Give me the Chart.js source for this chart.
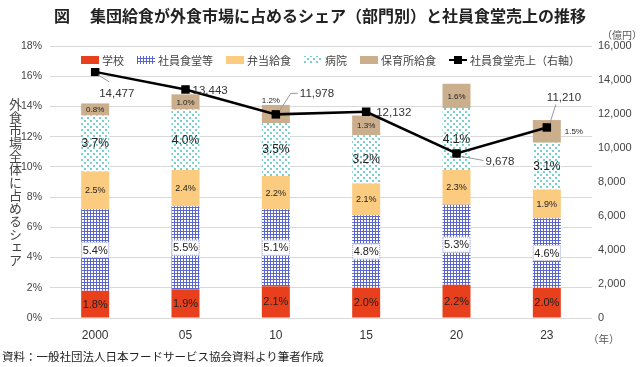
<!DOCTYPE html>
<html lang="ja">
<head>
<meta charset="utf-8">
<script src="https://cdn.jsdelivr.net/npm/chart.js@4/dist/chart.umd.min.js"></script>
<style>
body { margin: 0; background: #fff; font-family: "Noto Sans CJK JP", sans-serif; color: #333; }
#wrap { position: relative; width: 640px; height: 367px; overflow: hidden; }
#c { position: absolute; left: 0; top: 0; }
.t { position: absolute; white-space: nowrap; }
#title { left: 0; width: 640px; top: 3px; text-align: center; font-weight: bold; font-size: 16px; color: #222; }
#title span { margin-right: 20px; }
#ytitle { left: 8px; top: 98px; writing-mode: vertical-rl; font-size: 13px; color: #444; line-height: 14px; }
#unit { left: 602px; top: 27px; font-size: 10px; color: #555; }
#year { left: 588px; top: 331px; font-size: 10.5px; color: #555; }
#src { left: 2px; top: 348px; font-size: 11.5px; color: #222; }
#legend { left: 79px; top: 52px; display: flex; align-items: center; font-size: 11px; color: #444; background: #fff; padding: 0 2px; }
#legend .it { display: flex; align-items: center; margin-right: 13px; }
#legend .it:last-child { margin-right: 0; }
#legend canvas { margin-right: 3px; }
</style>
</head>
<body>
<div id="wrap">
  <canvas id="c" width="640" height="367"></canvas>
  <div class="t" id="title"><span>図</span>集団給食が外食市場に占めるシェア（部門別）と社員食堂売上の推移</div>
  <div class="t" id="ytitle">外食市場全体に占めるシェア</div>
  <div class="t" id="unit">（億円）</div>
  <div class="t" id="year">（年）</div>
  <div class="t" id="legend"></div>
  <div class="t" id="src">資料：一般社団法人日本フードサービス協会資料より筆者作成</div>
</div>
<script>
// data
var years = ['2000', '05', '10', '15', '20', '23'];
var school = [1.8, 1.9, 2.1, 2.0, 2.2, 2.0];
var office = [5.4, 5.5, 5.1, 4.8, 5.3, 4.6];
var bento = [2.5, 2.4, 2.2, 2.1, 2.3, 1.9];
var hospital = [3.7, 4.0, 3.5, 3.2, 4.1, 3.1];
var nursery = [0.8, 1.0, 1.2, 1.3, 1.6, 1.5];
var sales = [14477, 13443, 11978, 12132, 9678, 11210];

var barNames = ['学校', '社員食堂等', '弁当給食', '病院', '保育所給食'];
var lineName = '社員食堂売上（右軸）';

function makePattern(w, h, draw) {
    var c = document.createElement('canvas');
    c.width = w; c.height = h;
    var g = c.getContext('2d');
    g.fillStyle = '#fff'; g.fillRect(0, 0, w, h);
    draw(g);
    return g.createPattern(c, 'repeat');
}

var gridFill = makePattern(3, 3, function (g) {
    g.fillStyle = '#5a66cc';
    g.fillRect(0, 0, 3, 1);
    g.fillRect(0, 0, 1, 3);
});
var dotFill = makePattern(6, 6, function (g) {
    g.fillStyle = '#78cfcf';
    g.fillRect(0, 0, 2, 2);
    g.fillRect(3, 3, 2, 2);
});

var fills = ['#e8401c', gridFill, '#fbcb80', dotFill, '#cbae8c'];
var labelSizes = [11, 11, 9, 12, 8];

function barSet(name, data, i) {
    return {
        type: 'bar', label: name, data: data, yAxisID: 'y', stack: 's', order: 1,
        backgroundColor: fills[i], borderWidth: 0,
        barPercentage: 0.31, categoryPercentage: 1
    };
}

// legend as html, swatches painted on tiny canvases
function buildLegend() {
    var box = document.getElementById('legend');
    barNames.concat([lineName]).forEach(function (name, i) {
        var it = document.createElement('div');
        it.className = 'it';
        var sw = document.createElement('canvas');
        sw.width = 18; sw.height = 10;
        var g = sw.getContext('2d');
        if (i < 5) {
            g.fillStyle = fills[i];
            g.fillRect(0, 1, 18, 8);
        } else {
            g.strokeStyle = '#000'; g.lineWidth = 2;
            g.beginPath(); g.moveTo(0, 5); g.lineTo(18, 5); g.stroke();
            g.fillStyle = '#000'; g.fillRect(5, 1, 8, 8);
        }
        it.appendChild(sw);
        var sp = document.createElement('span');
        sp.textContent = name;
        it.appendChild(sp);
        box.appendChild(it);
    });
}
buildLegend();

// labels on the bars, drawn right after each bar dataset
var barLabels = {
    id: 'barLabels',
    afterDatasetDraw: function (chart, args) {
        var ds = chart.data.datasets[args.index];
        if (ds.type !== 'bar') return;
        var ctx = chart.ctx;
        var di = args.index;
        ctx.save();
        ctx.font = labelSizes[di] + 'px "Liberation Sans", sans-serif';
        ctx.textAlign = 'center';
        ctx.textBaseline = 'middle';
        args.meta.data.forEach(function (bar, i) {
            var txt = ds.data[i].toFixed(1) + '%';
            var x = bar.x, y = (bar.y + bar.base) / 2;
            if (di === 4 && i === 2) { x -= 5; y = bar.y - 5; }
            if (di === 4 && i === 5) { x += 27; }
            if (di === 1) {
                var w = bar.width;
                ctx.fillStyle = '#fff';
                ctx.fillRect(x - w / 2, y - 8, w, 16);
                ctx.strokeStyle = '#9aa4dc';
                ctx.lineWidth = 1;
                ctx.setLineDash([1, 1]);
                ctx.strokeRect(x - w / 2 + 0.5, y - 7.5, w - 1, 15);
                ctx.setLineDash([]);
            }
            ctx.fillStyle = '#222';
            ctx.fillText(txt, x, y + 0.5);
        });
        ctx.restore();
    }
};

// value labels for the sales line, with small leader lines
var salesOffsets = [[4, 22], [7, 1], [24, -21], [10, 1], [29, 8], [0, -30]];
var leaders = [
    [[3, 3], [14, 10]],
    null,
    [[4, -4], [15, -21], [22, -21]],
    null,
    [[5, 3], [27, 7]],
    [[3, -4], [9, -23]]
];
var salesLabels = {
    id: 'salesLabels',
    afterDraw: function (chart) {
        var ctx = chart.ctx;
        var meta = chart.getDatasetMeta(chart.data.datasets.length - 1);
        ctx.save();
        meta.data.forEach(function (pt, i) {
            var ld = leaders[i];
            if (ld) {
                ctx.strokeStyle = '#999';
                ctx.lineWidth = 1;
                ctx.beginPath();
                ctx.moveTo(pt.x + ld[0][0], pt.y + ld[0][1]);
                for (var k = 1; k < ld.length; k++) ctx.lineTo(pt.x + ld[k][0], pt.y + ld[k][1]);
                ctx.stroke();
            }
            ctx.fillStyle = '#333';
            ctx.font = '11.5px "Liberation Sans", sans-serif';
            ctx.textAlign = 'left';
            ctx.textBaseline = 'middle';
            ctx.fillText(sales[i].toLocaleString('en-US'), pt.x + salesOffsets[i][0], pt.y + salesOffsets[i][1]);
        });
        ctx.restore();
    }
};

var datasets = [
    barSet(barNames[0], school, 0),
    barSet(barNames[1], office, 1),
    barSet(barNames[2], bento, 2),
    barSet(barNames[3], hospital, 3),
    barSet(barNames[4], nursery, 4),
    {
        type: 'line', label: lineName, data: sales, yAxisID: 'y1', order: 0,
        borderColor: '#000', backgroundColor: '#000', borderWidth: 2.5,
        pointStyle: 'rect', pointRadius: 6, pointBackgroundColor: '#000', pointBorderWidth: 0,
        tension: 0
    }
];

new Chart(document.getElementById('c'), {
    data: { labels: years, datasets: datasets },
    options: {
        responsive: false,
        animation: false,
        layout: { padding: { top: 46, bottom: 25, left: 0, right: 0 } },
        plugins: {
            tooltip: { enabled: false },
            title: { display: false },
            legend: { display: false }
        },
        scales: {
            x: {
                offset: true,
                grid: { display: false },
                border: { display: false },
                ticks: { color: '#333', padding: 2, font: { family: '"Liberation Sans", sans-serif', size: 12 } },
                afterFit: function (s) { s.height = 24; }
            },
            y: {
                stacked: true, min: 0, max: 18,
                position: 'left',
                grid: { color: '#d9d9d9', drawTicks: false },
                border: { display: false },
                ticks: { stepSize: 2, padding: 8, color: '#444', font: { family: '"Liberation Sans", sans-serif', size: 10.5 },
                    callback: function (v) { return v + '%'; } },
                afterFit: function (s) { s.width = 50; }
            },
            y1: {
                min: 0, max: 16000,
                position: 'right',
                grid: { display: false, drawTicks: false },
                border: { display: false },
                ticks: { stepSize: 2000, padding: 6, color: '#444', font: { family: '"Liberation Sans", sans-serif', size: 11 },
                    callback: function (v) { return v.toLocaleString('en-US'); } },
                afterFit: function (s) { s.width = 48; }
            }
        }
    },
    plugins: [barLabels, salesLabels]
});
</script>
</body>
</html>
